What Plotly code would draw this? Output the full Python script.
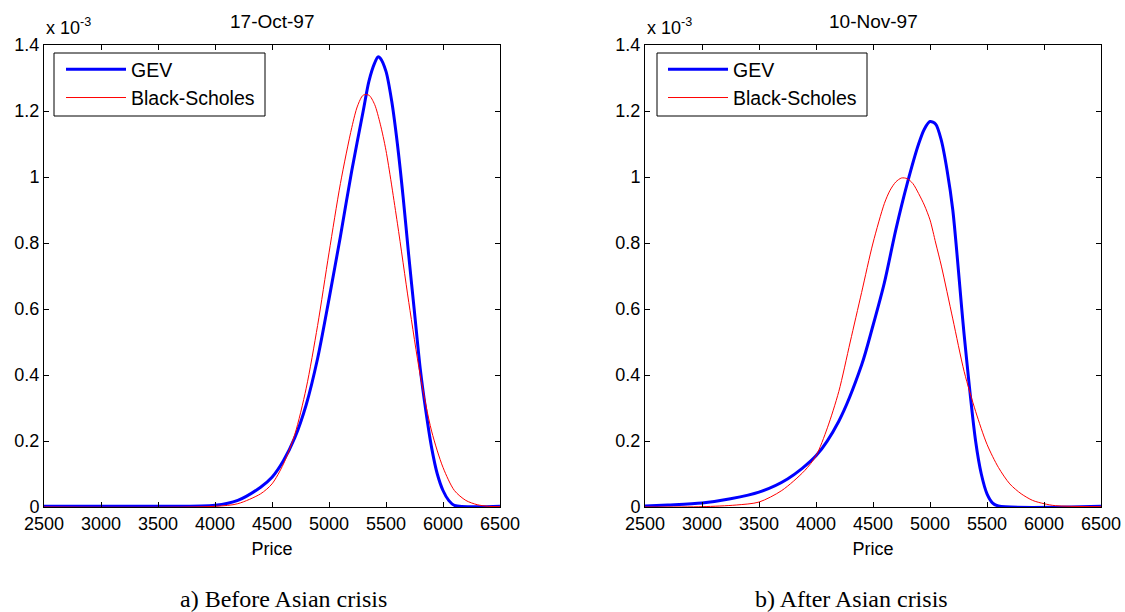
import plotly.graph_objects as go

# ---- data (density values in units of 1e-3) ----
price_gev_a = [2500, 3500, 4000, 4200, 4400, 4500, 4600, 4700, 4800, 4900, 5000, 5100, 5200, 5300,
               5350, 5400, 5430, 5450, 5500, 5550, 5600, 5650, 5700, 5750, 5800, 5850, 5900, 5950,
               6000, 6050, 6100, 6500]
gev_a = [0.002, 0.002, 0.005, 0.02, 0.06, 0.09, 0.14, 0.21, 0.31, 0.45, 0.63, 0.82, 1.02, 1.2,
         1.29, 1.345, 1.364, 1.36, 1.32, 1.23, 1.1, 0.94, 0.76, 0.59, 0.42, 0.29, 0.18, 0.1,
         0.05, 0.02, 0.005, 0.002]

price_bs_a = [2500, 4000, 4200, 4400, 4500, 4600, 4700, 4800, 4900, 5000, 5100, 5200, 5250, 5300,
              5350, 5400, 5450, 5500, 5600, 5700, 5800, 5900, 6000, 6100, 6200, 6300, 6400, 6500]
bs_a = [0.0, 0.002, 0.01, 0.04, 0.07, 0.13, 0.22, 0.36, 0.55, 0.77, 0.98, 1.15, 1.215, 1.248,
        1.248, 1.22, 1.16, 1.08, 0.86, 0.62, 0.40, 0.23, 0.12, 0.05, 0.02, 0.007, 0.002, 0.001]

price_gev_b = [2500, 2700, 3000, 3250, 3500, 3750, 4000, 4200, 4400, 4500, 4600, 4700, 4800, 4900,
               4950, 5000, 5050, 5100, 5150, 5200, 5300, 5400, 5450, 5500, 5550, 5600, 6500]
gev_b = [0.003, 0.006, 0.012, 0.025, 0.045, 0.085, 0.155, 0.26, 0.43, 0.55, 0.68, 0.84, 0.98, 1.1,
         1.145, 1.168, 1.16, 1.11, 1.02, 0.9, 0.52, 0.2, 0.1, 0.04, 0.012, 0.003, 0.002]

price_bs_b = [2500, 3000, 3300, 3500, 3700, 3900, 4000, 4100, 4200, 4300, 4400, 4500, 4600, 4650,
              4700, 4750, 4800, 4850, 4900, 4950, 5000, 5050, 5100, 5200, 5300, 5400, 5500, 5600,
              5700, 5800, 5900, 6000, 6100, 6500]
bs_b = [0.0, 0.001, 0.006, 0.015, 0.05, 0.11, 0.155, 0.24, 0.35, 0.5, 0.65, 0.8, 0.92, 0.96,
        0.985, 0.997, 0.995, 0.98, 0.95, 0.915, 0.87, 0.8, 0.73, 0.57, 0.41, 0.29, 0.19, 0.12,
        0.07, 0.04, 0.02, 0.01, 0.004, 0.001]

titles = ["17-Oct-97", "10-Nov-97"]
captions = ["a) Before Asian crisis", "b) After Asian crisis"]
x_ticks = [2500, 3000, 3500, 4000, 4500, 5000, 5500, 6000, 6500]
y_ticks = [0, 0.2, 0.4, 0.6, 0.8, 1, 1.2, 1.4]
y_tick_text = ["0", "0.2", "0.4", "0.6", "0.8", "1", "1.2", "1.4"]

W, H = 1125, 612
SANS = "Liberation Sans, Arial, sans-serif"
SERIF = "Liberation Serif, Times New Roman, serif"

fig = go.Figure()

fig.add_trace(go.Scatter(x=price_gev_a, y=gev_a, mode="lines", name="GEV",
                         line=dict(color="#0000ff", width=3, shape="spline", smoothing=0.8),
                         xaxis="x", yaxis="y", legend="legend"))
fig.add_trace(go.Scatter(x=price_bs_a, y=bs_a, mode="lines", name="Black-Scholes",
                         line=dict(color="#ff0000", width=1, shape="spline", smoothing=0.8),
                         xaxis="x", yaxis="y", legend="legend"))
fig.add_trace(go.Scatter(x=price_gev_b, y=gev_b, mode="lines", name="GEV",
                         line=dict(color="#0000ff", width=3, shape="spline", smoothing=0.8),
                         xaxis="x2", yaxis="y2", legend="legend2"))
fig.add_trace(go.Scatter(x=price_bs_b, y=bs_b, mode="lines", name="Black-Scholes",
                         line=dict(color="#ff0000", width=1, shape="spline", smoothing=0.8),
                         xaxis="x2", yaxis="y2", legend="legend2"))

# axes domains (pixel based)
axes_px = [(44, 500), (645, 1101)]
y_top, y_bot = 45, 507
ydom = [1 - y_bot / H, 1 - y_top / H]

common_x = dict(range=[2500, 6500], tickvals=x_ticks, ticks="inside", ticklen=5,
                tickcolor="black", showline=True, linecolor="black", linewidth=1,
                mirror="ticks", showgrid=False, zeroline=False, automargin=False,
                tickfont=dict(family=SANS, size=18, color="black"),
                title=dict(text="Price", font=dict(family=SANS, size=18, color="black"), standoff=9))
common_y = dict(range=[0, 1.4], tickvals=y_ticks, ticktext=y_tick_text, ticks="inside", ticklen=5,
                tickcolor="black", showline=True, linecolor="black", linewidth=1,
                mirror="ticks", showgrid=False, zeroline=False, automargin=False,
                tickfont=dict(family=SANS, size=18, color="black"))

fig.update_layout(
    xaxis=dict(domain=[axes_px[0][0] / W, axes_px[0][1] / W], anchor="y", **common_x),
    yaxis=dict(domain=ydom, anchor="x", **common_y),
    xaxis2=dict(domain=[axes_px[1][0] / W, axes_px[1][1] / W], anchor="y2", **common_x),
    yaxis2=dict(domain=ydom, anchor="x2", **common_y),
)

# legends (box drawn as a shape behind each legend)
legend_boxes = [(54, 265, 53, 116), (657, 867, 53, 116)]
legend_x = [61, 663]
legend_common = dict(xanchor="left", yanchor="top", borderwidth=0,
                     bgcolor="rgba(0,0,0,0)", font=dict(family=SANS, size=19.5, color="black"),
                     itemwidth=60, tracegroupgap=0)
fig.update_layout(
    legend=dict(x=legend_x[0] / W, y=1 - 50 / H, **legend_common),
    legend2=dict(x=legend_x[1] / W, y=1 - 50 / H, **legend_common),
)
shapes = []
for (x0, x1, y0, y1) in legend_boxes:
    shapes.append(dict(type="rect", xref="paper", yref="paper", x0=x0 / W, x1=x1 / W,
                       y0=1 - y1 / H, y1=1 - y0 / H, fillcolor="white",
                       line=dict(color="black", width=1), layer="above"))

caption_cx = [283, 851]
annotations = []
for i, (l, r) in enumerate(axes_px):
    cx = (l + r) / 2
    annotations.append(dict(x=cx / W, y=1 - 22 / H, xref="paper", yref="paper", text=titles[i],
                            showarrow=False, xanchor="center", yanchor="middle",
                            font=dict(family=SANS, size=19, color="black")))
    annotations.append(dict(x=l / W, y=1 - 27 / H, xref="paper", yref="paper",
                            text="x 10<sup>-3</sup>", showarrow=False, xanchor="left",
                            yanchor="middle", font=dict(family=SANS, size=18, color="black")))
    annotations.append(dict(x=caption_cx[i] / W, y=1 - 599 / H, xref="paper", yref="paper",
                            text=captions[i], showarrow=False, xanchor="center", yanchor="middle",
                            font=dict(family=SERIF, size=24, color="black")))

fig.update_layout(
    annotations=annotations,
    shapes=shapes,
    width=W, height=H,
    margin=dict(l=0, r=0, t=0, b=0),
    paper_bgcolor="white", plot_bgcolor="white",
    showlegend=True,
)

fig.write_html("out.html")
